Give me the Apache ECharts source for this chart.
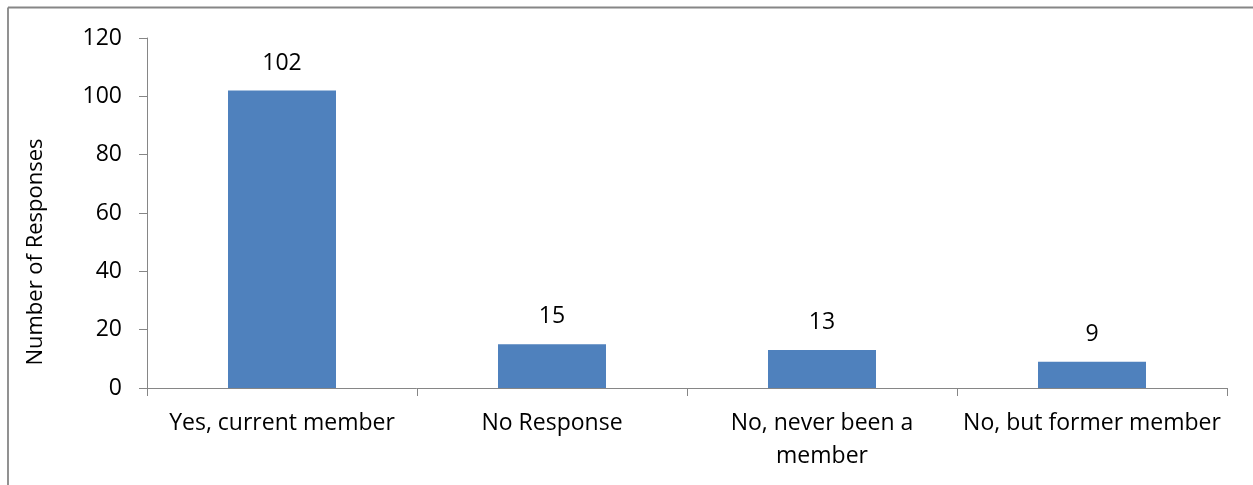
<!DOCTYPE html>
<html>
<head>
<meta charset="utf-8">
<script src="https://cdn.jsdelivr.net/npm/echarts@6/dist/echarts.min.js"></script>
<style>
  html, body { margin: 0; padding: 0; background: #ffffff; }
  #chart { width: 1253px; height: 485px; }
</style>
</head>
<body>
<div id="chart"></div>
<script>
// Survey responses on membership status
const categories = ['Yes, current member', 'No Response', 'No, never been a\nmember', 'No, but former member'];
const responses = [102, 15, 13, 9];
const yTicks = [0, 20, 40, 60, 80, 100, 120];
const yTitle = 'Number of Responses';

const axisGray = '#868686';
const fontFamily = '"Open Sans", sans-serif';
const fontSize = 23;

const chart = echarts.init(document.getElementById('chart'), null, { renderer: 'canvas' });

chart.setOption({
  backgroundColor: '#ffffff',
  animation: false,
  grid: { left: 147, right: 26, top: 38, bottom: 97, containLabel: false },
  graphic: [
    // chart area frame (top and left edges)
    { type: 'line', shape: { x1: 8, y1: 7.5, x2: 1253, y2: 7.5 }, style: { stroke: axisGray, lineWidth: 1.8 } },
    { type: 'line', shape: { x1: 8, y1: 7.5, x2: 8, y2: 485 }, style: { stroke: axisGray, lineWidth: 1.8 } },
    // vertical axis title
    {
      type: 'text',
      x: 36, y: 252,
      rotation: Math.PI / 2,
      style: {
        text: yTitle,
        fill: '#000000',
        font: '22px ' + fontFamily,
        textAlign: 'center',
        textVerticalAlign: 'middle'
      }
    }
  ],
  xAxis: {
    type: 'category',
    data: categories,
    axisLine: { show: true, lineStyle: { color: axisGray, width: 1 } },
    axisTick: { show: true, alignWithLabel: false, length: 8, lineStyle: { color: axisGray } },
    axisLabel: { interval: 0, color: '#000000', fontFamily: fontFamily, fontSize: fontSize, margin: 19, lineHeight: 33 }
  },
  yAxis: {
    type: 'value',
    min: yTicks[0],
    max: yTicks[yTicks.length - 1],
    interval: 20,
    axisLine: { show: true, lineStyle: { color: axisGray, width: 1 } },
    axisTick: { show: true, length: 8, lineStyle: { color: axisGray } },
    splitLine: { show: false },
    axisLabel: { color: '#000000', fontFamily: fontFamily, fontSize: fontSize, margin: 25 }
  },
  series: [{
    type: 'bar',
    data: responses,
    barWidth: '40%',
    itemStyle: { color: '#4F81BD' },
    label: {
      show: true,
      position: 'top',
      distance: 16,
      color: '#000000',
      fontFamily: fontFamily,
      fontSize: fontSize
    }
  }]
});
</script>
</body>
</html>
